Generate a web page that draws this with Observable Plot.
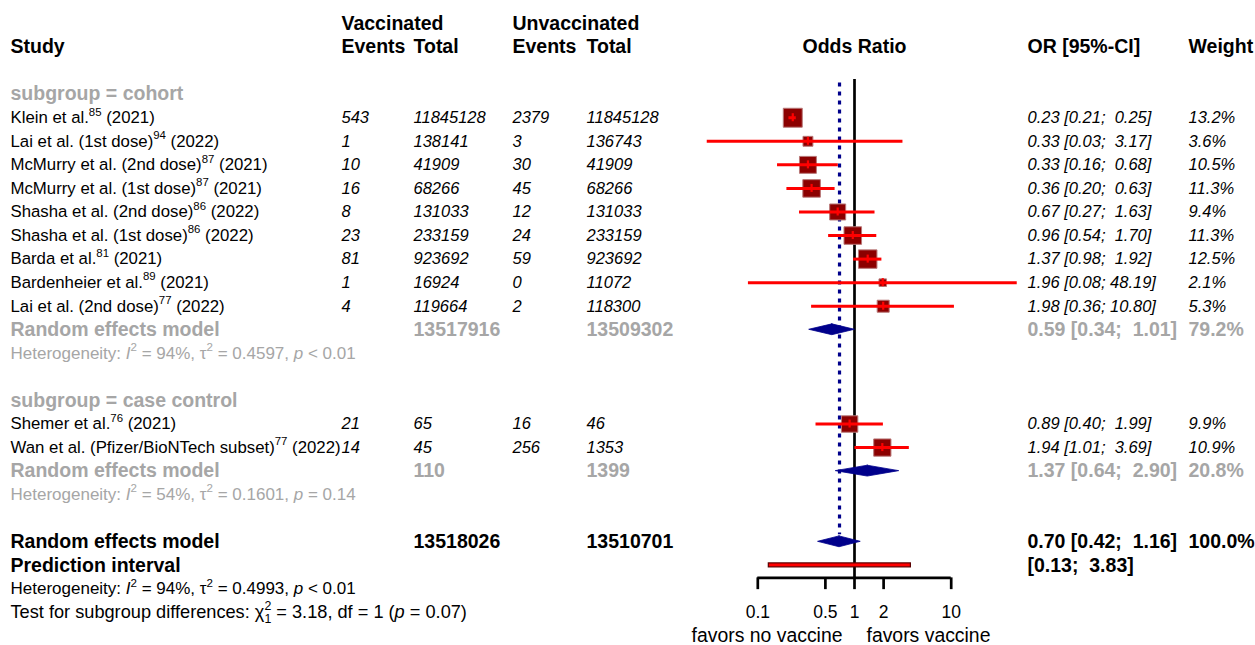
<!DOCTYPE html>
<html><head><meta charset="utf-8">
<script src="https://cdn.jsdelivr.net/npm/d3@7"></script>
<script src="https://cdn.jsdelivr.net/npm/@observablehq/plot@0.6"></script>
<style>
html,body{margin:0;padding:0;background:#fff;}
svg text{white-space:pre;}
</style></head><body><div id="chart"></div>
<script>
// ---------- data ----------
const studyNames = ["Klein et al.", "Lai et al. (1st dose)", "McMurry et al. (2nd dose)", "McMurry et al. (1st dose)",
  "Shasha et al. (2nd dose)", "Shasha et al. (1st dose)", "Barda et al.", "Bardenheier et al.", "Lai et al. (2nd dose)",
  "Shemer et al.", "Wan et al. (Pfizer/BioNTech subset)"];
const refs = [85, 94, 87, 87, 86, 86, 81, 89, 77, 76, 77];
const years = [2021, 2022, 2021, 2021, 2022, 2022, 2021, 2021, 2022, 2021, 2022];
const subgroupOf = ["cohort","cohort","cohort","cohort","cohort","cohort","cohort","cohort","cohort","case control","case control"];
const vaxEvents = [543, 1, 10, 16, 8, 23, 81, 1, 4, 21, 14];
const vaxTotal = [11845128, 138141, 41909, 68266, 131033, 233159, 923692, 16924, 119664, 65, 45];
const unvaxEvents = [2379, 3, 30, 45, 12, 24, 59, 0, 2, 16, 256];
const unvaxTotal = [11845128, 136743, 41909, 68266, 131033, 233159, 923692, 11072, 118300, 46, 1353];
const oddsRatio = [0.23, 0.33, 0.33, 0.36, 0.67, 0.96, 1.37, 1.96, 1.98, 0.89, 1.94];
const ciLower = [0.21, 0.03, 0.16, 0.20, 0.27, 0.54, 0.98, 0.08, 0.36, 0.40, 1.01];
const ciUpper = [0.25, 3.17, 0.68, 0.63, 1.63, 1.70, 1.92, 48.19, 10.80, 1.99, 3.69];
const weights = [13.2, 3.6, 10.5, 11.3, 9.4, 11.3, 12.5, 2.1, 5.3, 9.9, 10.9];

const subgroups = ["cohort", "case control"];
const subgroupOR = [0.59, 1.37];
const subgroupLower = [0.34, 0.64];
const subgroupUpper = [1.01, 2.90];
const subgroupWeight = [79.2, 20.8];
const subgroupVaxTotal = [13517916, 110];
const subgroupUnvaxTotal = [13509302, 1399];
const subgroupHet = ["Heterogeneity: *I*^{2} = 94%, τ^{2} = 0.4597, *p* < 0.01",
                     "Heterogeneity: *I*^{2} = 54%, τ^{2} = 0.1601, *p* = 0.14"];

const overallOR = 0.70, overallLower = 0.42, overallUpper = 1.16, overallWeight = 100.0;
const overallVaxTotal = 13518026, overallUnvaxTotal = 13510701;
const predLower = 0.13, predUpper = 3.83;
const overallHet = "Heterogeneity: *I*^{2} = 94%, τ^{2} = 0.4993, *p* < 0.01";
const subgroupTest = "Test for subgroup differences: χ^{2}_{1} = 3.18, df = 1 (*p* = 0.07)";

const headerTop = ["Vaccinated", "Unvaccinated"];
const headerLabels = ["Study", "Events", "Total", "Events", "Total", "OR [95%-CI]", "Weight"];
const axisTicks = [0.1, 0.5, 1, 2, 10];
const axisLabelLeft = "favors no vaccine";
const axisLabelRight = "favors vaccine";

// ---------- layout (styles / positions) ----------
const colX = {study: 10, ve: 341, vt: 413, ue: 512, ut: 586, or: 1027, w: 1188};
const GRAY = "#a6a6a6";
const styles = {
  head:  {fontWeight: "bold", fontSize: 19.5, fill: "black"},
  plain: {fontSize: 16.8, fill: "black"},
  ital:  {fontStyle: "italic", fontSize: 16.5, fill: "black"},
  gbold: {fontWeight: "bold", fontSize: 19.5, fill: GRAY},
  gnote: {fontSize: 17, fill: GRAY},
  bold:  {fontWeight: "bold", fontSize: 19.5, fill: "black"},
  note:  {fontSize: 17, fill: "black"},
  test:  {fontSize: 18.2, fill: "black"}
};

const f2 = d3.format(".2f"), f1 = d3.format(".1f");
const ciText = (e, l, u) => `${f2(e)} [${f2(l)}; ${f2(u).padStart(5)}]`;

// ---------- build table ----------
const cells = [];
const add = (row, col, text, style) => cells.push({row, col, text: String(text), style});
add(0, "ve", headerTop[0], "head");
add(0, "ue", headerTop[1], "head");
["study", "ve", "vt", "ue", "ut", "or", "w"].forEach((c, i) => add(1, c, headerLabels[i], "head"));

const studyRows = [], diamonds = [];
let r = 3;
subgroups.forEach((g, gi) => {
  add(r++, "study", `subgroup = ${g}`, "gbold");
  studyNames.forEach((n, i) => {
    if (subgroupOf[i] !== g) return;
    studyRows.push({row: r, or: oddsRatio[i], lo: ciLower[i], hi: ciUpper[i], w: weights[i]});
    add(r, "study", `${n}^{${refs[i]}} (${years[i]})`, "plain");
    add(r, "ve", vaxEvents[i], "ital");
    add(r, "vt", vaxTotal[i], "ital");
    add(r, "ue", unvaxEvents[i], "ital");
    add(r, "ut", unvaxTotal[i], "ital");
    add(r, "or", ciText(oddsRatio[i], ciLower[i], ciUpper[i]), "ital");
    add(r, "w", f1(weights[i]) + "%", "ital");
    r++;
  });
  diamonds.push({row: r, est: subgroupOR[gi], lo: subgroupLower[gi], hi: subgroupUpper[gi], id: g});
  add(r, "study", "Random effects model", "gbold");
  add(r, "vt", subgroupVaxTotal[gi], "gbold");
  add(r, "ut", subgroupUnvaxTotal[gi], "gbold");
  add(r, "or", ciText(subgroupOR[gi], subgroupLower[gi], subgroupUpper[gi]), "gbold");
  add(r, "w", f1(subgroupWeight[gi]) + "%", "gbold");
  r++;
  add(r++, "study", subgroupHet[gi], "gnote");
  r++;
});
const overallRow = r;
diamonds.push({row: r, est: overallOR, lo: overallLower, hi: overallUpper, id: "overall"});
add(r, "study", "Random effects model", "bold");
add(r, "vt", overallVaxTotal, "bold");
add(r, "ut", overallUnvaxTotal, "bold");
add(r, "or", ciText(overallOR, overallLower, overallUpper), "bold");
add(r, "w", f1(overallWeight) + "%", "bold");
r++;
const predRow = r;
add(r, "study", "Prediction interval", "bold");
add(r, "or", `[${f2(predLower)}; ${f2(predUpper).padStart(5)}]`, "bold");
r++;
add(r++, "study", overallHet, "note");
const testRow = r;
add(r++, "study", subgroupTest, "test");
const axisRow = predRow + 0.53;
const tickLabelRow = testRow;
const favorsRow = testRow + 1;

// diamond polygons
const dh = 0.23;
const diamondPts = diamonds.flatMap(d => [
  {id: d.id, y: d.row - dh, x1: d.est, x2: d.est},
  {id: d.id, y: d.row, x1: d.lo, x2: d.hi},
  {id: d.id, y: d.row + dh, x1: d.est, x2: d.est}
]);

// text marks
const textMarks = [];
for (const [sk, st] of Object.entries(styles)) {
  for (const [ck, cx] of Object.entries(colX)) {
    const data = cells.filter(c => c.style === sk && c.col === ck);
    if (data.length) textMarks.push(Plot.text(data, {
      y: "row", text: "text", frameAnchor: "left", dx: cx,
      textAnchor: "start", lineAnchor: "middle", ...st
    }));
  }
}

const lineTop = 2.38;
const chart = Plot.plot({
  width: 1255, height: 645,
  marginLeft: 0, marginRight: 0, marginTop: 0, marginBottom: 0,
  style: {fontFamily: "'Liberation Sans', Arial, sans-serif", fontSize: "16px", background: "white", overflow: "visible"},
  x: {type: "log", domain: [0.1, 10], range: [757.3, 950.7], axis: null},
  y: {domain: [0, 26], range: [23, 23 + 26 * 23.56], axis: null},
  r: {domain: [0, 13.2], range: [0, 10.7]},
  marks: [
    Plot.ruleX([1], {y1: lineTop, y2: axisRow, stroke: "black", strokeWidth: 2.7}),
    Plot.ruleX([overallOR], {y1: lineTop + 0.15, y2: overallRow - 0.3, stroke: "#00008B", strokeWidth: 3.2, strokeDasharray: "4,5"}),
    Plot.dot(studyRows, {x: "or", y: "row", r: "w", symbol: "square", fill: "#8B0000", stroke: "#b87878", strokeWidth: 1}),
    Plot.ruleY(studyRows, {y: "row", x1: "lo", x2: "hi", stroke: "#ff0000", strokeWidth: 3}),
    Plot.ruleX(studyRows, {x: "or", y1: d => d.row - 0.17, y2: d => d.row + 0.17, stroke: "#ff0000", strokeWidth: 2.2}),
    Plot.areaX(diamondPts, {y: "y", x1: "x1", x2: "x2", z: "id", fill: "#00008B", stroke: "#00008B", strokeWidth: 0.8, curve: "linear"}),
    Plot.rect([{lo: predLower, hi: predUpper, row: predRow}], {x1: "lo", x2: "hi", y1: d => d.row - 0.085, y2: d => d.row + 0.085, fill: "#ff0000", stroke: "#5a0000", strokeWidth: 1.2}),
    // axis
    Plot.ruleY([axisRow], {x1: axisTicks[0], x2: axisTicks[axisTicks.length - 1], stroke: "black", strokeWidth: 2.7}),
    Plot.ruleX(axisTicks, {y1: axisRow, y2: axisRow + 0.5, stroke: "black", strokeWidth: 2.7}),
    Plot.text(axisTicks, {x: d => d, y: () => tickLabelRow, text: d => String(d), fontSize: 17.5, lineAnchor: "middle", fill: "black"}),
    Plot.text([axisLabelLeft], {x: () => 1, y: () => favorsRow, text: d => d, textAnchor: "end", dx: -12, fontSize: 19.4, lineAnchor: "middle", fill: "black"}),
    Plot.text([axisLabelRight], {x: () => 1, y: () => favorsRow, text: d => d, textAnchor: "start", dx: 12, fontSize: 19.4, lineAnchor: "middle", fill: "black"}),
    Plot.text(["Odds Ratio"], {x: () => 1, y: () => 1, text: d => d, textAnchor: "middle", lineAnchor: "middle", fontWeight: "bold", fontSize: 19.5, fill: "black"}),
    ...textMarks
  ]
});
document.getElementById("chart").appendChild(chart);

// rich text: superscripts, subscripts, italics
(function richify(svg) {
  const NS = "http://www.w3.org/2000/svg";
  svg.querySelectorAll("text").forEach(t => {
    const s = t.textContent;
    if (!/[\^_*]/.test(s)) return;
    const fs = parseFloat(getComputedStyle(t).fontSize);
    t.textContent = "";
    const re = /\^\{([^}]*)\}|_\{([^}]*)\}|\*([^*]*)\*|([^^_*]+)/g;
    let m, shift = 0, lastSup = null;
    while ((m = re.exec(s))) {
      const ts = document.createElementNS(NS, "tspan");
      let target = 0;
      if (m[1] !== undefined) { ts.textContent = m[1]; ts.setAttribute("font-size", fs * 0.68); target = -0.45 * fs; }
      else if (m[2] !== undefined) { ts.textContent = m[2]; ts.setAttribute("font-size", fs * 0.68); target = 0.28 * fs; }
      else if (m[3] !== undefined) { ts.textContent = m[3]; ts.setAttribute("font-style", "italic"); }
      else ts.textContent = m[4];
      if (target - shift !== 0) ts.setAttribute("dy", target - shift);
      shift = target;
      t.appendChild(ts);
      if (m[2] !== undefined && lastSup) ts.setAttribute("dx", -lastSup.getComputedTextLength());
      lastSup = m[1] !== undefined ? ts : null;
    }
  });
})(chart);
</script>
</body></html>
